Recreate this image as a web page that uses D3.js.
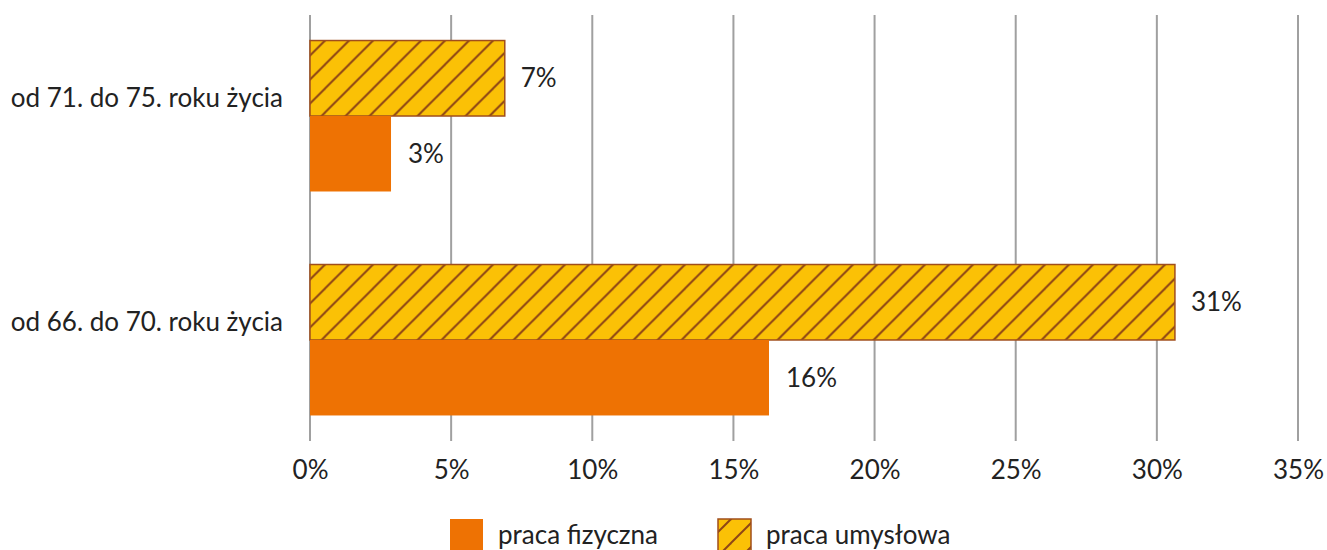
<!DOCTYPE html>
<html>
<head>
<meta charset="utf-8">
<script src="https://cdn.jsdelivr.net/npm/d3@7"></script>
<style>
  body { margin: 0; background: #fff; }
  text { font-family: Lato, sans-serif; fill: #222; }
</style>
</head>
<body>
<svg id="chart" width="1327" height="550"></svg>
<script>
const categories = ["od 71. do 75. roku życia", "od 66. do 70. roku życia"];
const umyslowa = [6.9, 30.64];
const fizyczna = [2.87, 16.26];
const xTicks = [0, 5, 10, 15, 20, 25, 30, 35];
const seriesNames = ["praca umysłowa", "praca fizyczna"];

const svg = d3.select("svg#chart");
const fontSize = "26px";

const defs = svg.append("defs");
const pat = defs.append("pattern")
    .attr("id", "hatch")
    .attr("patternUnits", "userSpaceOnUse")
    .attr("width", 24)
    .attr("height", 24)
    .attr("patternTransform", "translate(13,0)");
pat.append("rect").attr("width", 24).attr("height", 24).attr("fill", "#fbc106");
[[0, 24, 24, 0], [-6, 6, 6, -6], [18, 30, 30, 18]].forEach(l => {
    pat.append("line")
        .attr("x1", l[0]).attr("y1", l[1]).attr("x2", l[2]).attr("y2", l[3])
        .attr("stroke", "#8e4615").attr("stroke-width", 2);
});

const x = d3.scaleLinear().domain([0, 35]).range([310, 1298]);
const y = d3.scaleBand().domain(categories).range([15, 441])
    .paddingInner(0.326).paddingOuter(0.114);
const ySub = d3.scaleBand().domain(seriesNames).range([0, y.bandwidth()]);

// grid
svg.append("g").selectAll("line")
    .data(xTicks)
    .enter().append("line")
    .attr("x1", d => x(d)).attr("x2", d => x(d))
    .attr("y1", 15).attr("y2", 441)
    .attr("stroke", "#a0a0a0").attr("stroke-width", 2);

// x axis labels
const xAxis = d3.axisBottom(x).tickValues(xTicks).tickSize(0).tickPadding(0)
    .tickFormat(d => d + "%");
const gx = svg.append("g").attr("transform", "translate(0,461)").call(xAxis);
gx.select(".domain").remove();
gx.selectAll("text").style("font-family", "Lato, sans-serif").style("font-size", fontSize).attr("fill", "#222");

const rows = categories.map((c, i) => ({cat: c, umyslowa: umyslowa[i], fizyczna: fizyczna[i]}));

const g = svg.append("g").selectAll("g")
    .data(rows).enter().append("g")
    .attr("transform", d => `translate(0,${y(d.cat)})`);

g.append("rect")
    .attr("x", x(0))
    .attr("y", ySub("praca umysłowa"))
    .attr("width", d => x(d.umyslowa) - x(0))
    .attr("height", ySub.bandwidth())
    .attr("fill", "url(#hatch)")
    .attr("stroke", "#a04e1c").attr("stroke-width", 1.5);

g.append("rect")
    .attr("x", x(0))
    .attr("y", ySub("praca fizyczna"))
    .attr("width", d => x(d.fizyczna) - x(0))
    .attr("height", ySub.bandwidth())
    .attr("fill", "#ee7203");

g.append("text")
    .attr("x", d => x(d.umyslowa) + 16)
    .attr("y", ySub("praca umysłowa") + ySub.bandwidth() / 2)
    .attr("dy", "0.35em")
    .style("font-size", fontSize)
    .text(d => Math.round(d.umyslowa) + "%");

g.append("text")
    .attr("x", d => x(d.fizyczna) + 17)
    .attr("y", ySub("praca fizyczna") + ySub.bandwidth() / 2)
    .attr("dy", "0.35em")
    .style("font-size", fontSize)
    .text(d => Math.round(d.fizyczna) + "%");

g.append("text")
    .attr("x", 283)
    .attr("y", y.bandwidth() / 2 - 9)
    .attr("text-anchor", "end")
    .style("font-size", fontSize)
    .text(d => d.cat);

// legend
const legend = [
    {name: "praca fizyczna", fill: "#ee7203", stroke: "none", x: 450},
    {name: "praca umysłowa", fill: "url(#hatch)", stroke: "#a04e1c", x: 718}
];
const lg = svg.append("g").selectAll("g")
    .data(legend).enter().append("g")
    .attr("transform", d => `translate(${d.x},519)`);
lg.append("rect")
    .attr("width", 33).attr("height", 33)
    .attr("fill", d => d.fill)
    .attr("stroke", d => d.stroke).attr("stroke-width", 1.5);
lg.append("text")
    .attr("x", 48).attr("y", 25)
    .style("font-size", fontSize)
    .text(d => d.name);
</script>
</body>
</html>
